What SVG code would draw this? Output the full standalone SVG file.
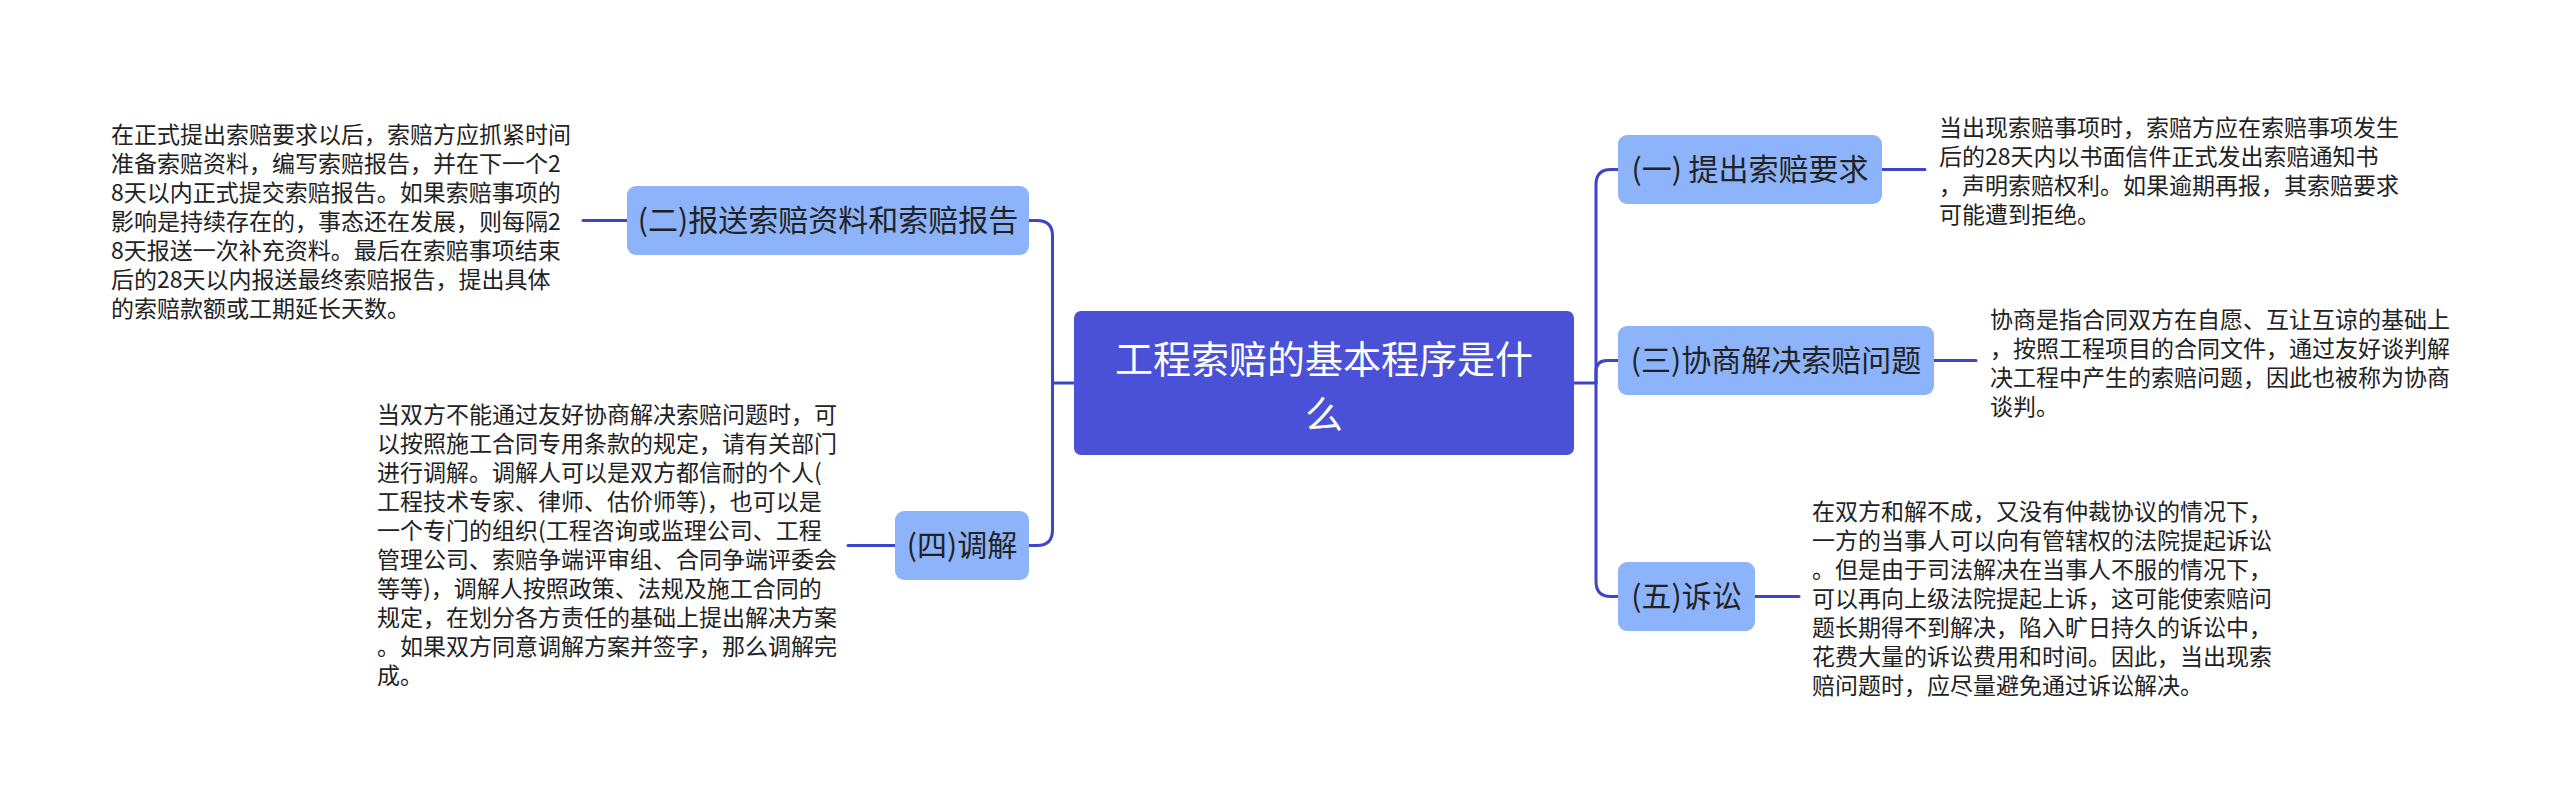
<svg xmlns="http://www.w3.org/2000/svg" width="2560" height="811" viewBox="0 0 2560 811">
<style>
.bg{fill:#ffffff}
.root{fill:#4a51d7}
.branch{fill:#8db4fb}
.rt{font-family:"Noto Sans CJK SC","Noto Sans",sans-serif;font-size:38px;fill:#ffffff;text-anchor:middle}
.bt{font-family:"Noto Sans CJK SC","Noto Sans",sans-serif;font-size:30px;fill:#222222;text-anchor:middle}
.dt{font-family:"Noto Sans CJK SC","Noto Sans",sans-serif;font-size:23px;fill:#222222}
.ln{fill:none;stroke:#3d45c8;stroke-width:3;stroke-linecap:round}
</style>
<rect class="bg" x="0" y="0" width="2560" height="811"/>
<g id="connectors">
<path class="ln" d="M1074,383 H1052.5"/>
<path class="ln" d="M1029,220.5 H1037 Q1052.5,220.5 1052.5,236 V530 Q1052.5,545.5 1037,545.5 H1029"/>
<path class="ln" d="M1574,383 H1596"/>
<path class="ln" d="M1618,169.5 H1611 Q1596,169.5 1596,184.5 V581.5 Q1596,596.5 1611,596.5 H1618"/>
<path class="ln" d="M1596,383 V372 Q1596,360.5 1607,360.5 H1618"/>
<path class="ln" d="M583,220.5 H627"/>
<path class="ln" d="M848,545.5 H895"/>
<path class="ln" d="M1882,169.5 H1925"/>
<path class="ln" d="M1934,360.5 H1976"/>
<path class="ln" d="M1755,596.5 H1799"/>
</g>
<g id="root">
<rect class="root" x="1074" y="311" width="500" height="144" rx="7"/>
<text class="rt" x="1324" y="373"><tspan x="1324">工程索赔的基本程序是什</tspan><tspan x="1324" dy="55">么</tspan></text>
</g>
<g id="n2">
<rect class="branch" x="627" y="186" width="402" height="69" rx="9"/>
<text class="bt" x="828" y="231">(二)报送索赔资料和索赔报告</text>
</g>
<g id="n4">
<rect class="branch" x="895" y="511" width="134" height="69" rx="9"/>
<text class="bt" x="962" y="556">(四)调解</text>
</g>
<g id="n1">
<rect class="branch" x="1618" y="135" width="264" height="69" rx="9"/>
<text class="bt" x="1750" y="180">(一) 提出索赔要求</text>
</g>
<g id="n3">
<rect class="branch" x="1618" y="326" width="316" height="69" rx="9"/>
<text class="bt" x="1776" y="371">(三)协商解决索赔问题</text>
</g>
<g id="n5">
<rect class="branch" x="1618" y="562" width="137" height="69" rx="9"/>
<text class="bt" x="1686.5" y="607">(五)诉讼</text>
</g>
<g id="d2">
<text class="dt" x="111" y="142.5">
<tspan x="111">在正式提出索赔要求以后，索赔方应抓紧时间</tspan>
<tspan x="111" dy="29">准备索赔资料，编写索赔报告，并在下一个2</tspan>
<tspan x="111" dy="29">8天以内正式提交索赔报告。如果索赔事项的</tspan>
<tspan x="111" dy="29">影响是持续存在的，事态还在发展，则每隔2</tspan>
<tspan x="111" dy="29">8天报送一次补充资料。最后在索赔事项结束</tspan>
<tspan x="111" dy="29">后的28天以内报送最终索赔报告，提出具体</tspan>
<tspan x="111" dy="29">的索赔款额或工期延长天数。</tspan>
</text>
</g>
<g id="d4">
<text class="dt" x="377" y="423">
<tspan x="377">当双方不能通过友好协商解决索赔问题时，可</tspan>
<tspan x="377" dy="29">以按照施工合同专用条款的规定，请有关部门</tspan>
<tspan x="377" dy="29">进行调解。调解人可以是双方都信耐的个人(</tspan>
<tspan x="377" dy="29">工程技术专家、律师、估价师等)，也可以是</tspan>
<tspan x="377" dy="29">一个专门的组织(工程咨询或监理公司、工程</tspan>
<tspan x="377" dy="29">管理公司、索赔争端评审组、合同争端评委会</tspan>
<tspan x="377" dy="29">等等)，调解人按照政策、法规及施工合同的</tspan>
<tspan x="377" dy="29">规定，在划分各方责任的基础上提出解决方案</tspan>
<tspan x="377" dy="29">。如果双方同意调解方案并签字，那么调解完</tspan>
<tspan x="377" dy="29">成。</tspan>
</text>
</g>
<g id="d1">
<text class="dt" x="1939" y="136">
<tspan x="1939">当出现索赔事项时，索赔方应在索赔事项发生</tspan>
<tspan x="1939" dy="29">后的28天内以书面信件正式发出索赔通知书</tspan>
<tspan x="1939" dy="29">，声明索赔权利。如果逾期再报，其索赔要求</tspan>
<tspan x="1939" dy="29">可能遭到拒绝。</tspan>
</text>
</g>
<g id="d3">
<text class="dt" x="1990" y="328">
<tspan x="1990">协商是指合同双方在自愿、互让互谅的基础上</tspan>
<tspan x="1990" dy="29">，按照工程项目的合同文件，通过友好谈判解</tspan>
<tspan x="1990" dy="29">决工程中产生的索赔问题，因此也被称为协商</tspan>
<tspan x="1990" dy="29">谈判。</tspan>
</text>
</g>
<g id="d5">
<text class="dt" x="1812" y="520">
<tspan x="1812">在双方和解不成，又没有仲裁协议的情况下，</tspan>
<tspan x="1812" dy="29">一方的当事人可以向有管辖权的法院提起诉讼</tspan>
<tspan x="1812" dy="29">。但是由于司法解决在当事人不服的情况下，</tspan>
<tspan x="1812" dy="29">可以再向上级法院提起上诉，这可能使索赔问</tspan>
<tspan x="1812" dy="29">题长期得不到解决，陷入旷日持久的诉讼中，</tspan>
<tspan x="1812" dy="29">花费大量的诉讼费用和时间。因此，当出现索</tspan>
<tspan x="1812" dy="29">赔问题时，应尽量避免通过诉讼解决。</tspan>
</text>
</g>
</svg>
